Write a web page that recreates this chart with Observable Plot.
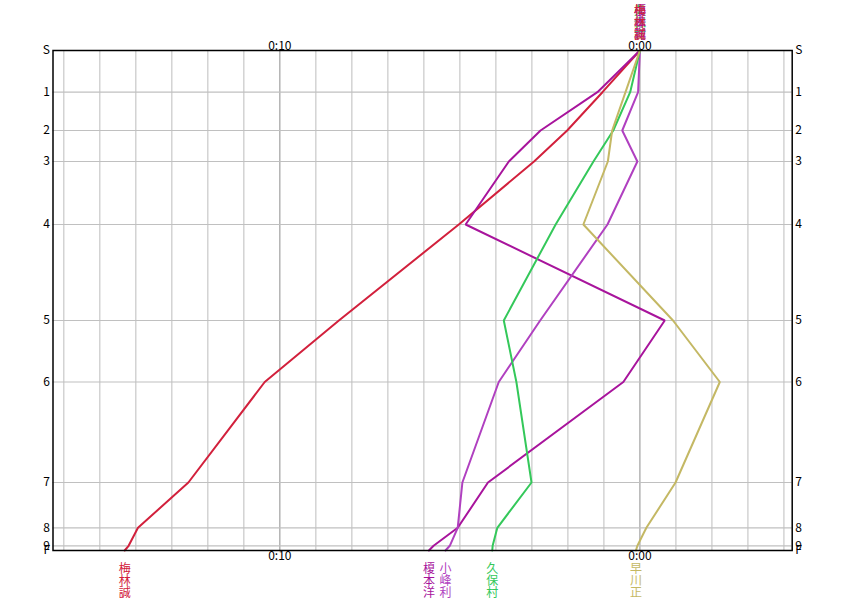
<!DOCTYPE html>
<html>
<head>
<meta charset="utf-8">
<script src="https://cdn.jsdelivr.net/npm/d3@7"></script>
<script src="https://cdn.jsdelivr.net/npm/@observablehq/plot@0.6"></script>
<style>
  html, body { margin: 0; padding: 0; background: #fff; }
  #chart svg { display: block; }
</style>
</head>
<body>
<div id="chart"></div>
<script>
// Controls and their position along the course (cumulative reference time, arbitrary units)
const controls = ["S", "1", "2", "3", "4", "5", "6", "7", "8", "9", "F"];
const controlPos = [0, 41.7, 80, 111, 174, 270, 331.5, 432, 477.3, 495.3, 500];

// Runners and colours
const runners = ["梅林誠", "榎本洋", "小峰利", "久保村", "早川正"];
const runnerColors = ["#d2203c", "#a8149c", "#b040c0", "#34c85a", "#c4b864"];

// Time behind the reference at each control (minutes)
const behind梅林誠 = [0, 1.04, 2.02, 2.94, 5.03, 8.36, 10.42, 12.54, 13.94, 14.2, 14.31];
const behind榎本洋 = [0, 1.18, 2.76, 3.64, 4.84, -0.69, 0.46, 4.22, 5.06, 5.73, 5.86];
const behind小峰利 = [0, 0.05, 0.49, 0.07, 0.9, 2.77, 3.92, 4.93, 5.06, 5.28, 5.4];
const behind久保村 = [0, 0.27, 0.74, 1.29, 2.34, 3.78, 3.43, 3.01, 3.96, 4.09, 4.1];
const behind早川正 = [0, 0.4, 0.77, 0.89, 1.57, -0.92, -2.22, -0.99, -0.18, 0.07, 0.11];
const behindSeries = [behind梅林誠, behind榎本洋, behind小峰利, behind久保村, behind早川正];

// Axis ticks
const minuteGrid = d3.range(-4, 17);
const timeTicks = [10, 0];
const timeTickLabels = ["0:10", "0:00"];

// Build rows
const rows = [];
runners.forEach((r, i) => {
  behindSeries[i].forEach((v, j) => rows.push({runner: r, control: controls[j], pos: controlPos[j], behind: v}));
});
const finishes = runners.map((r, i) => ({runner: r, behind: behindSeries[i][behindSeries[i].length - 1]}));
const ctrlRows = controls.map((c, i) => ({label: c, pos: controlPos[i]}));
const tickRows = timeTicks.map((t, i) => ({t, label: timeTickLabels[i]}));
const vert = s => [...s].join("\n");

const font = "'Noto Sans CJK JP', 'Noto Sans', sans-serif";

const chart = Plot.plot({
  width: 843,
  height: 600,
  marginLeft: 52.5,
  marginRight: 51.3,
  marginTop: 50,
  marginBottom: 50,
  style: {fontFamily: font, fontSize: "12px", background: "#fff", color: "#000"},
  x: {domain: [16.3, -4.23], axis: null},
  y: {domain: [0, 500], reverse: true, axis: null},
  color: {domain: runners, range: runnerColors},
  marks: [
    Plot.ruleX(minuteGrid, {stroke: d => d % 10 === 0 ? "#a0a0a0" : "#c8c8c8", strokeWidth: 1.2}),
    Plot.ruleY(controlPos.slice(1, -1), {stroke: "#c0c0c0", strokeWidth: 1.2}),
    Plot.line(rows, {x: "behind", y: "pos", z: "runner", stroke: "runner", strokeWidth: 2, strokeLinejoin: "miter"}),
    Plot.frame({stroke: "#000", strokeWidth: 1.5}),
    // control labels
    Plot.text(ctrlRows, {y: "pos", text: "label", frameAnchor: "left", textAnchor: "end", dx: -3, fill: "#000"}),
    Plot.text(ctrlRows, {y: "pos", text: "label", frameAnchor: "right", textAnchor: "start", dx: 3, fill: "#000"}),
    // time labels
    Plot.text(tickRows, {x: "t", text: "label", frameAnchor: "top", lineAnchor: "bottom", dy: -1, fill: "#000"}),
    Plot.text(tickRows, {x: "t", text: "label", frameAnchor: "bottom", lineAnchor: "top", dy: 1, fill: "#000"}),
    // runner names at start and finish
    Plot.text(runners.slice().reverse(), {x: () => 0, text: d => vert(d), fill: d => d, frameAnchor: "top", lineAnchor: "bottom", lineHeight: 1, dy: -12}),
    Plot.text(finishes, {x: "behind", text: d => vert(d.runner), fill: "runner", frameAnchor: "bottom", lineAnchor: "top", lineHeight: 1, dy: 14})
  ]
});
document.getElementById("chart").append(chart);
</script>
</body>
</html>
